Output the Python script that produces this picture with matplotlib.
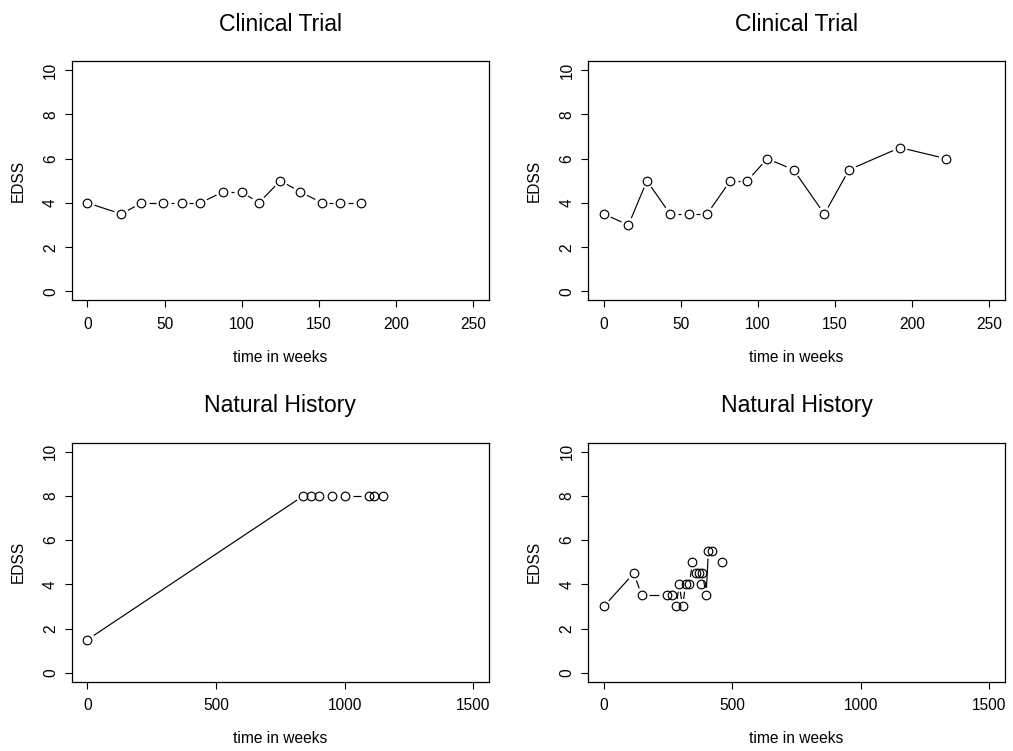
import matplotlib
matplotlib.use("Agg")
import matplotlib.pyplot as plt
import numpy as np

plt.rcParams['font.family'] = ['Liberation Sans', 'DejaVu Sans']

# EDSS scores over time for four patients
ct1_weeks = [0, 22, 35, 49, 61, 73, 88, 100, 111, 125, 138, 152, 164, 177]
ct1_edss = [4, 3.5, 4, 4, 4, 4, 4.5, 4.5, 4, 5, 4.5, 4, 4, 4]

ct2_weeks = [0, 16, 28, 43, 55, 67, 82, 93, 106, 123, 143, 159, 192, 222]
ct2_edss = [3.5, 3, 5, 3.5, 3.5, 3.5, 5, 5, 6, 5.5, 3.5, 5.5, 6.5, 6]

nh1_weeks = [0, 840, 868, 899, 951, 1003, 1094, 1115, 1150]
nh1_edss = [1.5, 8, 8, 8, 8, 8, 8, 8, 8]

nh2_weeks = [0, 117, 148, 245, 267, 282, 293, 307, 318, 333, 345, 358, 371, 378,
             384, 398, 407, 420, 458]
nh2_edss = [3, 4.5, 3.5, 3.5, 3.5, 3, 4, 3, 4, 4, 5, 4.5, 4.5, 4,
            4.5, 3.5, 5.5, 5.5, 5]

panels = [
    ("Clinical Trial", ct1_weeks, ct1_edss, [0, 50, 100, 150, 200, 250]),
    ("Clinical Trial", ct2_weeks, ct2_edss, [0, 50, 100, 150, 200, 250]),
    ("Natural History", nh1_weeks, nh1_edss, [0, 500, 1000, 1500]),
    ("Natural History", nh2_weeks, nh2_edss, [0, 500, 1000, 1500]),
]

W, H = 1013, 751
GAP = 7.5  # pixels left open around each point, like type="b"

fig = plt.figure(figsize=(W / 100, H / 100), dpi=100)

lefts = [72, 588.3]
tops = [61.3, 442.7]
aw, ah = 416.6, 239.0


def gapped_lines(ax, xs, ys):
    # join consecutive points but stop short of each circle
    pix = ax.transData.transform(np.column_stack([xs, ys]))
    inv = ax.transData.inverted()
    for p0, p1 in zip(pix[:-1], pix[1:]):
        d = p1 - p0
        length = np.hypot(*d)
        if length <= 2 * GAP:
            continue
        u = d / length
        a = inv.transform(p0 + u * GAP)
        b = inv.transform(p1 - u * GAP)
        ax.plot([a[0], b[0]], [a[1], b[1]], color='black', lw=0.85,
                solid_capstyle='butt')


for i, (title, xs, ys, xt) in enumerate(panels):
    left = lefts[i % 2]
    top = tops[i // 2]
    ax = fig.add_axes([left / W, 1 - (top + ah) / H, aw / W, ah / H])
    span = xt[-1] - xt[0]
    ax.set_xlim(xt[0] - 0.04 * span, xt[-1] + 0.04 * span)
    ax.set_ylim(-0.4, 10.4)
    ax.set_xticks(xt)
    ax.set_yticks([0, 2, 4, 6, 8, 10])
    ax.tick_params(direction='out', length=5, width=0.8, labelsize=11.2,
                   top=False, right=False)
    ax.tick_params(axis='x', pad=7)
    ax.tick_params(axis='y', pad=5)
    for lab in ax.get_yticklabels():
        lab.set_rotation(90)
        lab.set_va('center')
    for s in ax.spines.values():
        s.set_linewidth(0.9)

    gapped_lines(ax, xs, ys)
    ax.plot(xs, ys, linestyle='none', marker='o', markersize=6.2,
            markerfacecolor='none', markeredgecolor='black', markeredgewidth=0.85)

    ax.set_title(title, fontsize=16.6, pad=22)
    ax.text(0.5, -0.2585, "time in weeks", transform=ax.transAxes,
            ha='center', va='baseline', fontsize=11.2)
    ax.text(-54 / aw, 0.5, "EDSS", transform=ax.transAxes, rotation=90,
            ha='center', va='center', fontsize=11.2)

fig.savefig("out.png", dpi=100)
